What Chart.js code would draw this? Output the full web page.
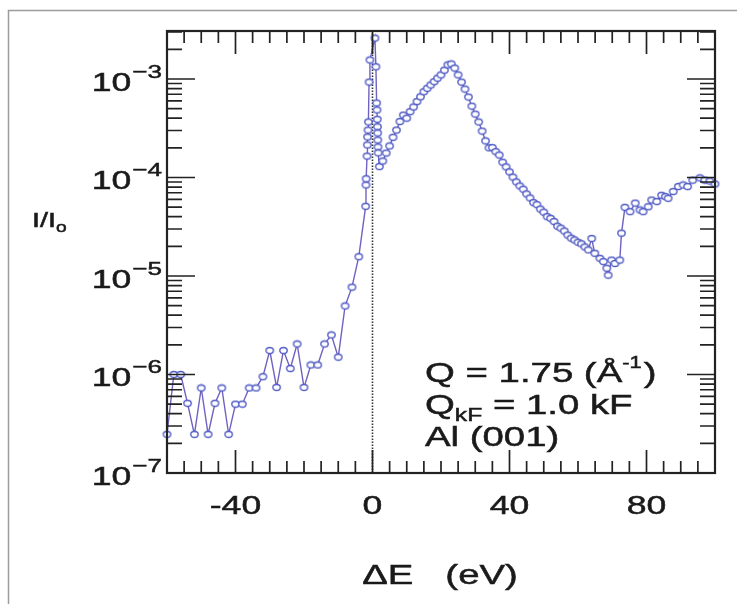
<!DOCTYPE html>
<html>
<head>
<meta charset="utf-8">
<script src="https://cdn.jsdelivr.net/npm/chart.js@4.4.0/dist/chart.umd.min.js"></script>
<style>
  body { margin: 0; background: #fff; }
  canvas { display: block; }
</style>
</head>
<body>
<canvas id="eels" width="737" height="604"></canvas>
<script>
// energy gain side (negative loss), 2 eV steps
const gainE = [-60, -58, -56, -54, -52, -50, -48, -46, -44, -42, -40, -38, -36, -34, -32,
  -30, -28, -26, -24, -22, -20, -18, -16, -14, -12, -10, -8, -6, -4, -2];
const gainI = [2.47e-7, 1.0e-6, 1.0e-6, 5.1e-7, 2.47e-7, 7.3e-7, 2.47e-7, 5.1e-7, 7.3e-7, 2.47e-7,
  5.0e-7, 5.0e-7, 7.3e-7, 7.3e-7, 9.5e-7, 1.75e-6, 7.4e-7, 1.75e-6, 1.15e-6, 2.04e-6,
  7.4e-7, 1.25e-6, 1.25e-6, 2.04e-6, 2.52e-6, 1.5e-6, 4.96e-6, 7.7e-6, 1.57e-5, 5.1e-5];

// elastic line, fine steps
const elasticE = [-1.9, -1.85, -1.6, -1.5, -1.45, -1.3, -1.2, -1.0, -0.75, 0.7,
  1.0, 1.2, 1.3, 1.4, 1.45, 1.5, 1.55, 1.6, 1.65];
const elasticI = [8.4e-5, 9.7e-5, 1.65e-4, 2.14e-4, 2.58e-4, 3.03e-4, 3.66e-4, 9.3e-4, 1.56e-3, 2.6e-3,
  1.33e-3, 5.7e-4, 4.85e-4, 3.9e-4, 3.27e-4, 2.83e-4, 2.4e-4, 2.04e-4, 1.78e-4];

// loss side: plasmon and beyond
const lossE = [2, 3, 4, 5, 6, 7, 8, 9, 10, 11, 12, 13, 14, 15, 16, 17, 18, 19, 20,
  21, 22, 23, 24, 25, 26, 27, 28, 29, 30, 31, 32, 33, 34, 35, 36, 37, 38, 39, 40,
  41, 42, 43, 44, 45, 46, 47, 48, 49, 50, 51, 52, 53, 54, 55, 56, 57, 58, 59, 60,
  61, 62, 63, 64, 64.9, 66.4, 67.4, 68.4, 68.8, 69.8, 70.8, 72.2, 72.7, 73.7, 75.2,
  76.7, 78.1, 79.0, 80.5, 81.5, 83.0, 84.4, 85.5, 86.3, 87.8, 89.3, 90.7, 92.0, 93.5,
  95.6, 97.0, 98.5, 100];
const lossI = [1.29e-4, 1.47e-4, 1.77e-4, 2.09e-4, 2.56e-4, 3.03e-4, 3.7e-4, 4.3e-4, 4.0e-4,
  4.66e-4, 5.2e-4, 5.9e-4, 6.6e-4, 7.43e-4, 8.05e-4, 8.7e-4, 9.4e-4, 1.02e-3, 1.10e-3,
  1.23e-3, 1.39e-3, 1.42e-3, 1.29e-3, 1.10e-3, 9.3e-4, 7.9e-4, 6.56e-4, 5.3e-4, 4.4e-4,
  3.66e-4, 2.96e-4, 2.35e-4, 2.0e-4, 2.01e-4, 1.83e-4, 1.69e-4, 1.43e-4, 1.28e-4, 1.14e-4,
  1.01e-4, 9.0e-5, 8.2e-5, 7.6e-5, 6.8e-5, 6.2e-5, 5.55e-5, 5.3e-5, 4.78e-5, 4.45e-5,
  4.0e-5, 3.85e-5, 3.57e-5, 3.2e-5, 3.06e-5, 2.86e-5, 2.6e-5, 2.42e-5, 2.32e-5, 2.2e-5,
  2.12e-5, 1.97e-5, 1.84e-5, 2.4e-5, 1.7e-5, 1.51e-5, 1.4e-5, 1.2e-5, 1.02e-5, 1.45e-5,
  1.34e-5, 1.45e-5, 2.72e-5, 4.98e-5, 4.5e-5,
  5.5e-5, 4.68e-5, 4.5e-5, 5.05e-5, 5.9e-5, 5.7e-5, 6.6e-5, 6.4e-5, 6.15e-5, 7.2e-5,
  8.1e-5, 8.4e-5, 8.1e-5, 9.4e-5, 9.9e-5, 9.4e-5, 9.2e-5, 8.6e-5];

// axes
const xRange = [-60, 100];
const yRange = [1e-7, 3.07e-3];
const xTickLabels = [-40, 0, 40, 80];
const xMinorStep = 5;
const yDecades = [-7, -6, -5, -4, -3];
const zeroLineE = [0, 0];
const zeroLineI = [1e-7, 3.07e-3];

const SX = 1.37; // the figure is stretched sideways
const FONT = '"Liberation Sans", Arial, Helvetica, sans-serif';
const INK = '#1a1a1a';

const energy = gainE.concat(elasticE, lossE);
const intensity = gainI.concat(elasticI, lossI);
const points = energy.map((e, i) => ({ x: e, y: intensity[i] }));

// open circle marker, a little wider than tall like the scan
const marker = document.createElement('canvas');
marker.width = 11; marker.height = 9;
(function () {
  const c = marker.getContext('2d');
  c.beginPath();
  c.ellipse(5.5, 4.5, 3.7, 3.0, 0, 0, Math.PI * 2);
  c.fillStyle = '#fff';
  c.fill();
  c.lineWidth = 1.35;
  c.strokeStyle = '#4f5ac4';
  c.stroke();
})();

function txt(ctx, s, x, y, size, align) {
  ctx.save();
  ctx.font = size + 'px ' + FONT;
  ctx.translate(x, y);
  ctx.scale(SX, 1);
  ctx.textAlign = align || 'left';
  ctx.textBaseline = 'alphabetic';
  ctx.lineWidth = 0.5;
  ctx.strokeStyle = INK;
  ctx.fillText(s, 0, 0);
  ctx.strokeText(s, 0, 0);
  ctx.restore();
}
function tw(ctx, s, size) {
  ctx.save();
  ctx.font = size + 'px ' + FONT;
  const w = ctx.measureText(s).width * SX;
  ctx.restore();
  return w;
}

const framePlugin = {
  id: 'frame',
  afterDraw(chart) {
    const { ctx, chartArea: a, scales: { x, y } } = chart;
    ctx.save();

    // outer figure border (top and left only are in view)
    ctx.strokeStyle = '#9c9c9c';
    ctx.lineWidth = 1.5;
    ctx.beginPath();
    ctx.moveTo(8.5, 604); ctx.lineTo(8.5, 10.5); ctx.lineTo(737, 10.5);
    ctx.stroke();

    // inward ticks
    ctx.strokeStyle = '#222';
    ctx.lineWidth = 1.7;
    ctx.beginPath();
    for (let v = xRange[0]; v <= xRange[1]; v += xMinorStep) {
      const px = x.getPixelForValue(v);
      const len = xTickLabels.includes(v) ? 23 : 12;
      ctx.moveTo(px, a.bottom); ctx.lineTo(px, a.bottom - len);
      ctx.moveTo(px, a.top); ctx.lineTo(px, a.top + len);
    }
    yDecades.forEach(e => {
      for (let m = 1; m < 10; m++) {
        const v = m * Math.pow(10, e);
        if (v > yRange[1]) break;
        const py = y.getPixelForValue(v);
        const len = m === 1 ? 28 : 15;
        ctx.moveTo(a.left, py); ctx.lineTo(a.left + len, py);
        ctx.moveTo(a.right, py); ctx.lineTo(a.right - len, py);
      }
    });
    ctx.stroke();

    ctx.lineWidth = 2.2;
    ctx.strokeRect(a.left, a.top, a.width, a.height);

    ctx.fillStyle = INK;
    // x tick labels
    xTickLabels.forEach(v => {
      txt(ctx, String(v), x.getPixelForValue(v), a.bottom + 41, 26, 'center');
    });
    // y tick labels 10^n
    yDecades.forEach(e => {
      const py = y.getPixelForValue(Math.pow(10, e));
      const expS = '\u2212' + Math.abs(e);
      const right = a.left - 5;
      const wE = tw(ctx, expS, 19);
      txt(ctx, expS, right - wE, py - 1, 19);
      txt(ctx, '10', right - wE - 1, py + 12, 26, 'right');
    });

    // axis titles
    txt(ctx, 'I/I', 32, 227, 21);
    txt(ctx, 'o', 32 + tw(ctx, 'I/I', 21), 232, 14);
    txt(ctx, '\u0394E   (eV)', 440, 584, 28, 'center');

    // sample annotation
    let cx = 425;
    txt(ctx, 'Q = 1.75 (\u00C5', cx, 382, 28);
    cx += tw(ctx, 'Q = 1.75 (\u00C5', 28);
    txt(ctx, '-1', cx, 368, 16);
    cx += tw(ctx, '-1', 16) + 2;
    txt(ctx, ')', cx, 382, 28);

    cx = 425;
    txt(ctx, 'Q', cx, 414, 28);
    cx += tw(ctx, 'Q', 28);
    txt(ctx, 'kF', cx, 421, 18);
    cx += tw(ctx, 'kF', 18);
    txt(ctx, ' = 1.0 kF', cx, 414, 28);

    txt(ctx, 'Al (001)', 425, 446, 28);

    ctx.restore();
  }
};

new Chart(document.getElementById('eels'), {
  type: 'line',
  data: {
    datasets: [
      {
        label: 'zero',
        data: zeroLineE.map((e, i) => ({ x: e, y: zeroLineI[i] })),
        borderColor: '#333',
        borderWidth: 1.6,
        borderDash: [1.5, 1.5],
        pointRadius: 0,
        order: 2
      },
      {
        label: 'I/Io',
        data: points,
        borderColor: '#6f62c0',
        borderWidth: 1.4,
        pointStyle: marker,
        pointRadius: 3.5,
        tension: 0,
        clip: false,
        order: 1
      }
    ]
  },
  options: {
    responsive: false,
    animation: false,
    devicePixelRatio: 1,
    layout: { padding: { left: 167, top: 31, right: 22, bottom: 131 } },
    scales: {
      x: { type: 'linear', min: xRange[0], max: xRange[1], display: false },
      y: { type: 'logarithmic', min: yRange[0], max: yRange[1], display: false }
    },
    plugins: {
      legend: { display: false },
      tooltip: { enabled: false }
    }
  },
  plugins: [framePlugin]
});
</script>
</body>
</html>
